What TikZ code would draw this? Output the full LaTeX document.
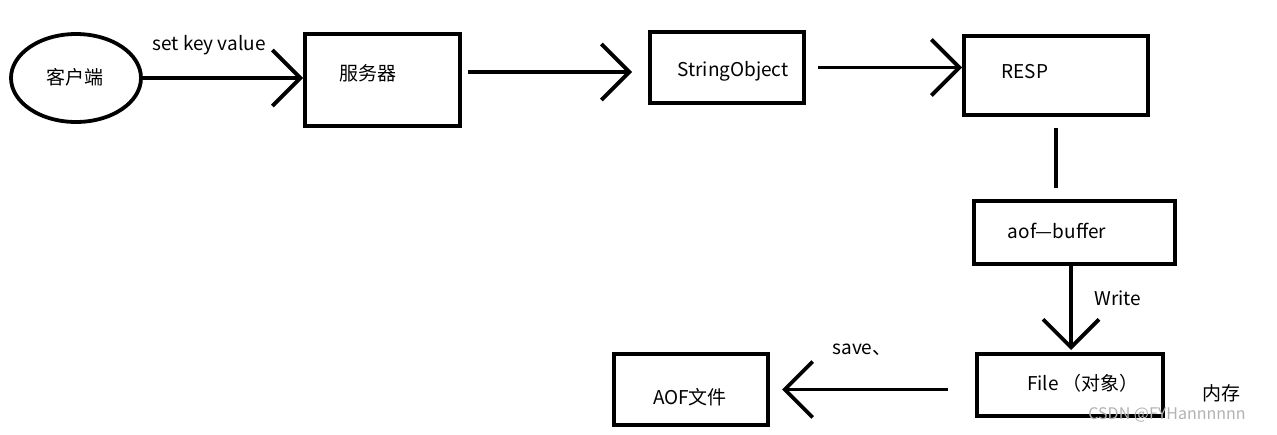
\documentclass[tikz,border=0pt]{standalone}
\usepackage{fontspec}
\setmainfont{Noto Sans CJK SC}
\usetikzlibrary{arrows.meta,shapes.geometric}

\begin{document}
\begin{tikzpicture}[x=1pt,y=-1pt,
  box/.style={draw, line width=4pt, rectangle, inner sep=0pt},
  txt/.style={font=\fontsize{19}{21}\selectfont, inner sep=0pt},
  flow/.style={line width=3.8pt, -{Straight Barb[length=28pt,width=56pt]}},
  link/.style={line width=3.8pt}]

\useasboundingbox (0,0) rectangle (1277,434);

% shapes
\node[draw, ellipse, line width=3.8pt, minimum width=130pt, minimum height=88pt, inner sep=0pt] (cli) at (76,78) {};
\node[box, minimum width=155pt, minimum height=92pt] (srv)  at (382.5,80) {};
\node[box, minimum width=154pt, minimum height=71pt] (so)   at (727,67.5) {};
\node[box, minimum width=184pt, minimum height=79pt] (resp) at (1056,75.5) {};
\node[box, minimum width=201pt, minimum height=63pt] (buf)  at (1074.5,232.5) {};
\node[box, minimum width=186pt, minimum height=62pt] (file) at (1070,385) {};
\node[box, minimum width=154pt, minimum height=71pt] (aof)  at (691,389.5) {};

% texts
\node[txt] (tcli)  at (75,77)    {客户端};
\node[txt] (tset)  at (209,45)   {set key value};
\node[txt] (tsrv)  at (368,73)   {服务器};
\node[txt] (tso)   at (733,71)   {StringObject};
\node[txt] (tresp) at (1025,72)  {RESP};
\node[txt] (tbuf)  at (1057,231) {aof—buffer};
\node[txt] (twr)   at (1118,298) {Write};
\node[txt] (tfile) at (1083,383) {File （对象）};
\node[txt] (tmem)  at (1221,393) {内存};
\node[txt] (tsave) at (862,350)  {save、};
\node[txt] (taof)  at (690,397)  {AOF文件};
\node[txt, text=black!30, font=\fontsize{16}{18}\selectfont] (wm) at (1167,415) {CSDN @FYHannnnnn};

% connectors
\coordinate (s2) at ([yshift=8pt]srv.east);
\draw[flow] (cli.east) -- (cli.east -| srv.west);
\draw[flow, shorten <=6pt, shorten >=16pt] (s2) -- (so.west |- s2);
\draw[flow, shorten <=12pt] (so.east) -- (resp.west |- so.east);
\draw[link, shorten <=11pt, shorten >=11pt] (resp.south) -- (resp.south |- buf.north);
\draw[flow, shorten >=2pt] ([xshift=-3.5pt]buf.south) -- ([xshift=-3.5pt]buf.south |- file.north);
\draw[flow, shorten <=27pt, shorten >=12pt] (file.west |- aof.east) -- (aof.east);
\end{tikzpicture}
\end{document}
